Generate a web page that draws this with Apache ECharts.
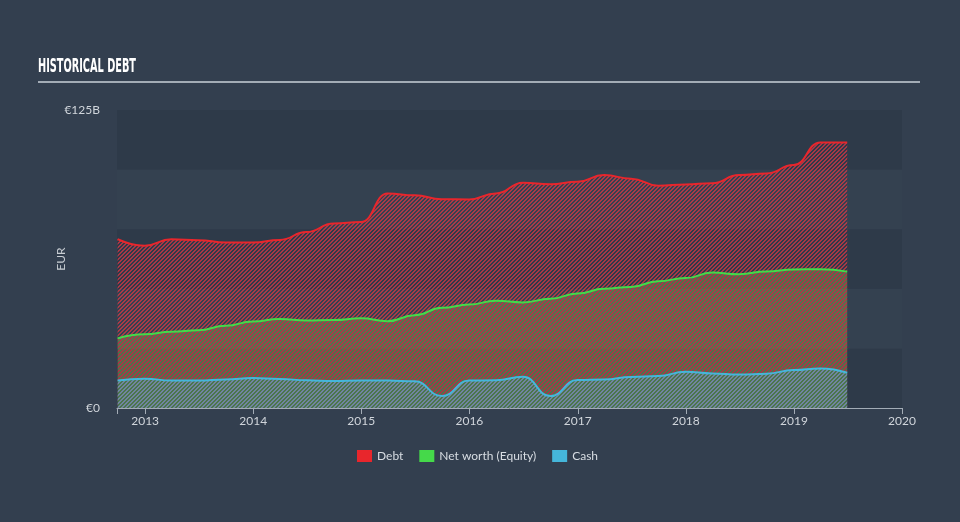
<!DOCTYPE html>
<html>
<head>
<meta charset="utf-8">
<script src="https://cdn.jsdelivr.net/npm/echarts@6/dist/echarts.min.js"></script>
<style>
html,body{margin:0;padding:0;background:#333f4f;}
#c{width:960px;height:522px;}
</style>
</head>
<body>
<div id="c"></div>
<script>
// ---- data (values in billions EUR) ----
const dates = [
  '2012-09-30','2012-12-31','2013-03-31','2013-06-30','2013-09-30','2013-12-31',
  '2014-03-31','2014-06-30','2014-09-30','2014-12-31','2015-03-31','2015-06-30',
  '2015-09-30','2015-12-31','2016-03-31','2016-06-30','2016-09-30','2016-12-31',
  '2017-03-31','2017-06-30','2017-09-30','2017-12-31','2018-03-31','2018-06-30',
  '2018-09-30','2018-12-31','2019-03-31','2019-06-30'
];
const debt = [
  70.8, 68.1, 70.8, 70.4, 69.4, 69.4,
  70.5, 73.8, 77.4, 78.0, 90.0, 89.2,
  87.6, 87.5, 90.0, 94.5, 93.9, 94.9,
  97.7, 96.2, 93.2, 93.8, 94.3, 97.7,
  98.4, 101.9, 111.4, 111.4
];
const equity = [
  29.2, 30.9, 32.0, 32.6, 34.5, 36.3,
  37.3, 36.7, 36.9, 37.6, 36.4, 38.9,
  42.0, 43.4, 45.0, 44.3, 45.8, 48.0,
  50.0, 50.8, 53.2, 54.5, 56.8, 56.1,
  57.3, 58.1, 58.2, 57.2
];
const cash = [
  11.5, 12.3, 11.5, 11.5, 12.0, 12.6,
  12.2, 11.6, 11.3, 11.5, 11.5, 11.2,
  5.0, 11.5, 11.6, 13.1, 5.0, 11.7,
  12.0, 13.0, 13.4, 15.2, 14.5, 14.0,
  14.4, 15.9, 16.6, 14.8
];
const xTickYears = [2013, 2014, 2015, 2016, 2017, 2018, 2019, 2020];
const yLabelValues = [0, 125];
const seriesNames = ['Debt', 'Net worth (Equity)', 'Cash'];

// ---- hatch patterns ----
function hatch(rgb, alpha, phases) {
  const c = document.createElement('canvas');
  c.width = 4; c.height = 4;
  const ctx = c.getContext('2d');
  const img = ctx.createImageData(4, 4);
  for (let y = 0; y < 4; y++) {
    for (let x = 0; x < 4; x++) {
      const i = (y * 4 + x) * 4;
      if (phases.indexOf((x + y) % 4) >= 0) {
        img.data[i] = rgb[0]; img.data[i+1] = rgb[1]; img.data[i+2] = rgb[2];
        img.data[i+3] = Math.round(alpha * 255);
      }
    }
  }
  ctx.putImageData(img, 0, 0);
  return c;
}
const debtPat = hatch([225, 55, 70], 0.68, [0, 1]);
const eqPat = hatch([110, 190, 80], 0.45, [2, 3]);
const cashPat = hatch([75, 185, 220], 0.6, [0, 1]);

function pairs(vals) { return dates.map((d, i) => [d, vals[i]]); }

// title scale to fit condensed look
const titleText = 'HISTORICAL DEBT';
const titleFont = 'bold 20px "DejaVu Sans Condensed"';
const mc = document.createElement('canvas').getContext('2d');
mc.font = titleFont;
const titleW = mc.measureText(titleText).width || 170;
const titleScale = 98 / titleW;

const YEAR = 365.25 * 24 * 3600 * 1000;
const chart = echarts.init(document.getElementById('c'), null, {renderer: 'canvas'});

chart.setOption({
  backgroundColor: '#333f4f',
  animation: false,
  textStyle: {fontFamily: 'Lato, "Open Sans", sans-serif'},
  graphic: [
    {type: 'text', x: 38, y: 67, scaleX: titleScale, scaleY: 1,
     style: {text: titleText, font: titleFont, fill: '#ffffff', verticalAlign: 'middle', align: 'left'}},
    {type: 'rect', shape: {x: 38, y: 81, width: 882, height: 2}, style: {fill: '#a3acb6'}}
  ],
  legend: {
    data: seriesNames,
    left: 352, top: 445,
    icon: 'rect', itemWidth: 15, itemHeight: 12, itemGap: 16,
    textStyle: {color: '#d8dde3', fontSize: 12, fontFamily: 'Lato, sans-serif'}
  },
  grid: {left: 117, right: 58, top: 110, bottom: 114, containLabel: false},
  xAxis: {
    type: 'time',
    min: new Date(2012, 8, 28).getTime(),
    max: new Date(xTickYears[xTickYears.length - 1], 0, 1).getTime(),
    minInterval: YEAR * 0.9, maxInterval: YEAR * 1.1,
    axisLine: {show: true, lineStyle: {color: '#a3acb6', width: 1}},
    axisTick: {show: true, length: 6, lineStyle: {color: '#a3acb6'}},
    axisLabel: {
      color: '#d0d5db', fontSize: 12, margin: 7, showMinLabel: true, showMaxLabel: true,
      formatter: function (v) {
        const d = new Date(v);
        return (d.getMonth() === 0 && d.getDate() === 1) ? String(d.getFullYear()) : '';
      }
    },
    splitLine: {show: false}
  },
  yAxis: {
    type: 'value', min: 0, max: 125, interval: 25,
    name: 'EUR', nameLocation: 'middle', nameGap: 50, nameRotate: 90, nameMoveOverlap: false,
    nameTextStyle: {color: '#c8cdd3', fontSize: 12},
    axisLine: {show: false}, axisTick: {show: false},
    axisLabel: {
      color: '#d0d5db', fontSize: 12, margin: 17,
      formatter: function (v) { return yLabelValues.indexOf(v) < 0 ? '' : (v === 0 ? '€0' : '€' + v + 'B'); }
    },
    splitLine: {show: false},
    splitArea: {show: true, areaStyle: {color: ['#2e3a49', '#344150']}}
  },
  series: [
    {name: seriesNames[0], type: 'line', data: pairs(debt), smooth: 0.5, smoothMonotone: 'x',
     showSymbol: false, symbol: 'none', z: 2,
     itemStyle: {color: '#e8262c'}, lineStyle: {color: '#e8262c', width: 2},
     areaStyle: {color: {image: debtPat, repeat: 'repeat'}, opacity: 1}},
    {name: seriesNames[1], type: 'line', data: pairs(equity), smooth: 0.5, smoothMonotone: 'x',
     showSymbol: false, symbol: 'none', z: 3,
     itemStyle: {color: '#45d94a'}, lineStyle: {color: '#45d94a', width: 2},
     areaStyle: {color: {image: eqPat, repeat: 'repeat'}, opacity: 1}},
    {name: seriesNames[2], type: 'line', data: pairs(cash), smooth: 0.5, smoothMonotone: 'x',
     showSymbol: false, symbol: 'none', z: 4,
     itemStyle: {color: '#45b6da'}, lineStyle: {color: '#45b6da', width: 2},
     areaStyle: {color: {image: cashPat, repeat: 'repeat'}, opacity: 1}}
  ]
});
</script>
</body>
</html>
